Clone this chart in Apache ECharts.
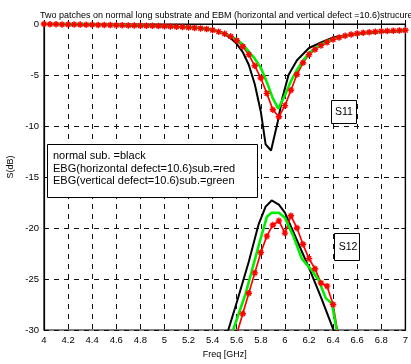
<!DOCTYPE html>
<html>
<head>
<meta charset="utf-8">
<script src="https://cdn.jsdelivr.net/npm/echarts@6/dist/echarts.min.js"></script>
<style>
html,body{margin:0;padding:0;background:#fff;}
#c{width:411px;height:364px;}
</style>
</head>
<body>
<div id="c"></div>
<script>
// ---- data ----
const titleText = 'Two patches on normal long substrate and EBM (horizontal and vertical defect =10.6)strucure';
const xName = 'Freq [GHz]';
const yName = 'S(dB)';
const legendLines = ['normal sub. =black', 'EBG(horizontal defect=10.6)sub.=red', 'EBG(vertical defect=10.6)sub.=green'];
const s11Label = 'S11';
const s12Label = 'S12';

const blackS11 = [[4.0,0],[4.5,-0.1],[5.0,-0.25],[5.2,-0.32],[5.3,-0.4],[5.4,-0.58],[5.45,-0.74],[5.5,-1.0],[5.55,-1.4],[5.6,-1.95],[5.65,-2.75],[5.7,-4.0],[5.75,-5.9],[5.8,-8.6],[5.84,-11.8],[5.885,-12.4],[5.94,-9.6],[5.98,-7.2],[6.03,-5.0],[6.1,-3.55],[6.2,-2.35],[6.3,-1.8],[6.4,-1.32],[6.5,-1.1],[6.67,-0.9],[6.8,-0.78],[7.0,-0.68]];
const blackS12 = [[5.53,-30],[5.6,-27.3],[5.7,-23.3],[5.78,-19.7],[5.84,-17.9],[5.89,-17.3],[5.95,-17.7],[6.0,-18.5],[6.1,-21.2],[6.2,-23.9],[6.3,-26.8],[6.4,-29.9],[6.41,-30.2]];

const redS11 = [[4.00,0],[4.05,-0.02],[4.10,-0.03],[4.15,-0.04],[4.20,-0.05],[4.25,-0.05],[4.30,-0.06],[4.35,-0.07],[4.40,-0.08],[4.45,-0.09],[4.50,-0.10],[4.55,-0.11],[4.60,-0.12],[4.65,-0.13],[4.70,-0.14],[4.75,-0.15],[4.80,-0.16],[4.85,-0.17],[4.90,-0.18],[4.95,-0.20],[5.00,-0.22],[5.05,-0.24],[5.10,-0.27],[5.15,-0.30],[5.20,-0.34],[5.25,-0.38],[5.30,-0.43],[5.35,-0.50],[5.40,-0.60],[5.45,-0.75],[5.50,-0.95],[5.55,-1.22],[5.60,-1.62],[5.65,-2.2],[5.70,-3.0],[5.75,-4.1],[5.80,-5.3],[5.85,-6.8],[5.90,-8.4],[5.95,-9.1],[6.00,-8.0],[6.05,-6.5],[6.10,-4.95],[6.15,-3.8],[6.20,-3.0],[6.25,-2.5],[6.30,-2.1],[6.35,-1.8],[6.40,-1.52],[6.45,-1.32],[6.50,-1.16],[6.55,-1.03],[6.60,-0.93],[6.65,-0.86],[6.70,-0.8],[6.75,-0.76],[6.80,-0.72],[6.85,-0.69],[6.90,-0.66],[6.95,-0.64],[7.00,-0.62]];
const redS12 = [[5.60,-30.4],[5.65,-28.4],[5.70,-26.4],[5.75,-24.4],[5.80,-22.4],[5.85,-20.8],[5.90,-19.7],[5.95,-19.3],[6.00,-20.5],[6.05,-18.8],[6.10,-20.0],[6.15,-21.6],[6.20,-23.0],[6.25,-24.0],[6.30,-25.4],[6.35,-25.7],[6.40,-27.5],[6.45,-31.1]];

const greenS11 = [[4.0,0],[4.5,-0.08],[5.0,-0.2],[5.2,-0.33],[5.3,-0.42],[5.4,-0.6],[5.5,-0.92],[5.6,-1.5],[5.65,-2.0],[5.70,-2.7],[5.75,-3.4],[5.80,-4.3],[5.85,-5.7],[5.90,-7.3],[5.945,-8.3],[6.00,-7.0],[6.05,-5.6],[6.10,-4.5],[6.15,-3.6],[6.2,-2.85],[6.25,-2.4],[6.3,-2.0],[6.4,-1.45],[6.5,-1.15],[6.6,-0.95],[6.7,-0.82],[6.8,-0.74],[6.9,-0.68],[7.0,-0.63]];
const greenS12 = [[5.57,-30],[5.675,-26.4],[5.785,-21.6],[5.85,-18.9],[5.89,-18.5],[5.95,-18.5],[6.0,-19.0],[6.07,-20.8],[6.14,-23.0],[6.22,-24.1],[6.28,-25.1],[6.34,-26.9],[6.39,-27.4],[6.43,-30]];

// ---- chart ----
const FONT = 'Liberation Sans, Arial, Helvetica, sans-serif';
const chart = echarts.init(document.getElementById('c'), null, {renderer:'canvas'});
const gridLine = {show:true, lineStyle:{color:'#111', width:1, type:[5,5]}};
const star = 'path://M5 0L5 10M0 5L10 5M1.5 1.5L8.5 8.5M1.5 8.5L8.5 1.5';

function lineSeries(data, color, width, withMarker){
  return {
    type:'line', data:data, xAxisIndex:0, yAxisIndex:0,
    symbol: withMarker ? star : 'none', symbolSize: 6.5, showSymbol: !!withMarker,
    lineStyle:{color:color, width:width}, itemStyle:{color:color, borderColor:color, borderWidth:1.4},
    clip:true, animation:false, silent:true, z:3
  };
}

chart.setOption({
  animation:false,
  backgroundColor:'#fff',
  title:{text:titleText, left:35, top:6, textStyle:{fontFamily:FONT, fontSize:9, fontWeight:'normal', color:'#000'}},
  grid:{left:44, right:4, top:24, bottom:30, show:true, borderColor:'#000', borderWidth:1.2, backgroundColor:'#fff'},
  xAxis:[{
    type:'value', min:4, max:7, interval:0.2, position:'bottom',
    name:xName, nameLocation:'middle', nameGap:20,
    nameTextStyle:{fontFamily:FONT, fontSize:9, color:'#000'},
    axisLine:{show:true, lineStyle:{color:'#000', width:1.2}},
    axisTick:{show:true, inside:true, length:4, lineStyle:{color:'#000'}},
    axisLabel:{fontFamily:FONT, fontSize:9.5, color:'#000', margin:5},
    splitLine:gridLine
  },{
    type:'value', min:4, max:7, interval:0.2, position:'top',
    axisLine:{show:true, lineStyle:{color:'#000', width:1.2}},
    axisTick:{show:true, inside:true, length:4, lineStyle:{color:'#000'}},
    axisLabel:{show:false}, splitLine:{show:false}
  }],
  yAxis:[{
    type:'value', min:-30, max:0, interval:5, position:'left',
    axisLine:{show:true, lineStyle:{color:'#000', width:1.2}},
    axisTick:{show:true, inside:true, length:4, lineStyle:{color:'#000'}},
    axisLabel:{fontFamily:FONT, fontSize:9.5, color:'#000', margin:5},
    splitLine:gridLine
  },{
    type:'value', min:-30, max:0, interval:5, position:'right',
    axisLine:{show:true, lineStyle:{color:'#000', width:1.2}},
    axisTick:{show:true, inside:true, length:4, lineStyle:{color:'#000'}},
    axisLabel:{show:false}, splitLine:{show:false}
  }],
  series:[
    lineSeries(blackS11, '#000000', 2, false),
    lineSeries(blackS12, '#000000', 2, false),
    lineSeries(redS11, '#ff0000', 1.7, true),
    lineSeries(redS12, '#ff0000', 1.7, true),
    lineSeries(greenS11, '#00ee00', 2.6, false),
    lineSeries(greenS12, '#00ee00', 2.6, false)
  ],
  graphic:[
    {type:'text', x:11, y:167, rotation:Math.PI/2, style:{text:yName, fontFamily:FONT, fontSize:9, fill:'#000', align:'center', verticalAlign:'middle'}, z:10},
    {type:'rect', shape:{x:47.5, y:144.5, width:210, height:53}, style:{fill:'#fff', stroke:'#000', lineWidth:1}, z:10},
    {type:'text', x:53, y:156, style:{text:legendLines[0], fontFamily:FONT, fontSize:11, fill:'#000', verticalAlign:'middle'}, z:11},
    {type:'text', x:53, y:168.5, style:{text:legendLines[1], fontFamily:FONT, fontSize:11, fill:'#000', verticalAlign:'middle'}, z:11},
    {type:'text', x:53, y:181, style:{text:legendLines[2], fontFamily:FONT, fontSize:11, fill:'#000', verticalAlign:'middle'}, z:11},
    {type:'rect', shape:{x:331.5, y:100.5, width:25, height:23}, style:{fill:'#fff', stroke:'#000', lineWidth:1}, z:10},
    {type:'text', x:344, y:112, style:{text:s11Label, fontFamily:FONT, fontSize:10.5, fill:'#000', align:'center', verticalAlign:'middle'}, z:11},
    {type:'rect', shape:{x:334.5, y:233.5, width:25, height:27}, style:{fill:'#fff', stroke:'#000', lineWidth:1}, z:10},
    {type:'text', x:348, y:247, style:{text:s12Label, fontFamily:FONT, fontSize:10.5, fill:'#000', align:'center', verticalAlign:'middle'}, z:11}
  ]
});
</script>
</body>
</html>
